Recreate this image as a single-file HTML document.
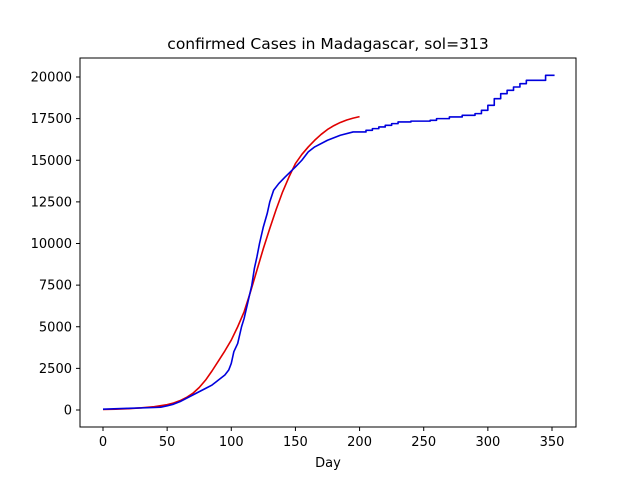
<!DOCTYPE html>
<html><head><meta charset="utf-8"><style>
body{margin:0;background:#fff}
svg{display:block;font-family:"DejaVu Sans","Liberation Sans",sans-serif}
</style></head><body>
<svg id="chart" width="640" height="480" xmlns="http://www.w3.org/2000/svg">
<rect width="640" height="480" fill="#fff"/>
<text x="328" y="49" font-size="15.5" text-anchor="middle">confirmed Cases in Madagascar, sol=313</text>
<g id="plot"></g>
<rect x="80" y="58" width="496" height="369" fill="none" stroke="#000" stroke-width="1"/>
<text x="328" y="467" font-size="13" text-anchor="middle">Day</text>
</svg>
<script>
const xTicks=[0,50,100,150,200,250,300,350];
const yTicks=[0,2500,5000,7500,10000,12500,15000,17500,20000];
const redDays=[0,10,20,30,40,50,55,60,65,70,75,80,85,90,95,100,105,110,115,120,125,130,135,140,145,150,155,160,165,170,175,180,185,190,195,200];
const redVals=[30,50,80,130,200,320,420,560,750,1000,1350,1800,2350,2950,3550,4200,5000,5900,7100,8400,9700,10900,12050,13100,14000,14800,15350,15800,16200,16550,16850,17080,17270,17420,17530,17620];
const blueDays=[0,20,40,45,50,55,60,70,80,85,90,95,98,100,102,105,108,110,113,116,118,120,122,125,128,130,133,137,142,150,155,160,165,175,185,195,205,210,215,220,225,230,240,255,260,270,280,290,295,300,305,310,315,320,325,330,335,345,352];
const blueVals=[50,100,150,170,250,350,500,900,1300,1500,1800,2100,2400,2800,3500,4000,5000,5500,6500,7500,8500,9200,10000,11000,11800,12500,13200,13600,14000,14600,15000,15500,15800,16200,16500,16700,16800,16900,17000,17100,17200,17300,17350,17400,17500,17600,17700,17800,18000,18300,18700,19000,19200,19400,19600,19800,19800,20100,20100];
const X=d=>103+d*(449/350);
const Y=v=>410-v*(333/20000);
const NS="http://www.w3.org/2000/svg";
const g=document.getElementById('plot');
function mk(t,a){const e=document.createElementNS(NS,t);for(const k in a)e.setAttribute(k,a[k]);g.appendChild(e);return e;}
xTicks.forEach(t=>{
  const l=mk('line',{x1:X(t),x2:X(t),y1:427,y2:431,stroke:'#000'});
  
  
  const s=mk('text',{x:X(t),y:446,'font-size':13,'text-anchor':'middle'});s.textContent=t;
  
  
});
yTicks.forEach(t=>{
  const l=mk('line',{x1:76,x2:80,y1:Y(t),y2:Y(t),stroke:'#000'});
  
  
  const s=mk('text',{x:72,y:Y(t)+4.5,'font-size':13,'text-anchor':'end'});s.textContent=t;
  
  
});
const red=mk('polyline',{points:redDays.map((d,i)=>X(d)+','+Y(redVals[i])).join(' '),fill:'none',stroke:'#e00000','stroke-width':1.6,'stroke-linejoin':'round'});


let pts=[];
blueDays.forEach((d,i)=>{
  if(d>=200&&i>0)pts.push(X(d)+','+Y(blueVals[i-1]));
  pts.push(X(d)+','+Y(blueVals[i]));
});
const blue=mk('polyline',{points:pts.join(' '),fill:'none',stroke:'#0000dd','stroke-width':1.6,'stroke-linejoin':'round'});


</script>
</body></html>
